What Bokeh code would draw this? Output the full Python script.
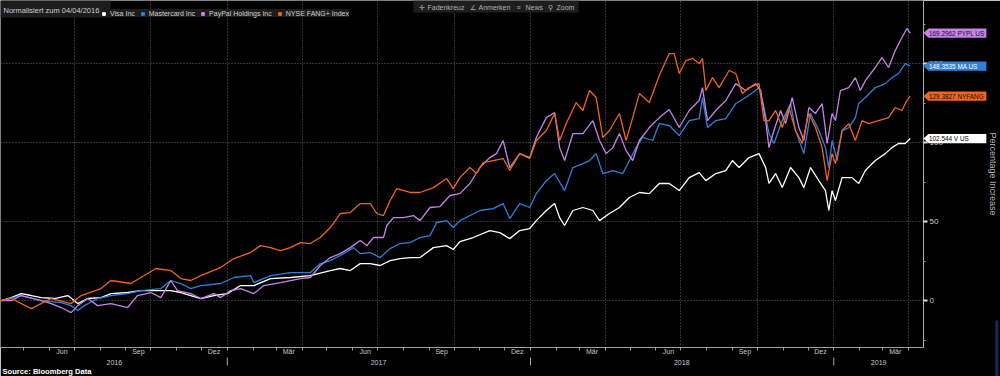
from datetime import date
from bokeh.plotting import figure
from bokeh.models import (Range1d, FixedTicker, Legend, LegendItem,
                          Label, BoxAnnotation)
from bokeh.core.properties import value
from bokeh.embed import file_html
from bokeh.resources import INLINE

START = date(2016, 4, 4)  # day 0 (normalisation date)

# ---- data: days since 04/04/2016 and % increase ----
visa_day = [0,12,24,36,48,64,80,92,104,120,132,152,168,192,204,216,228,240,256,272,
            288,304,324,348,372,396,408,420,432,444,456,468,480,492,504,520,536,544,552,568,
            588,600,612,624,636,644,656,666,672,678,688,700,712,720,732,744,756,768,780,792,
            804,816,828,840,848,860,872,880,888,900,912,920,924,932,940,950,960,966,974,984,
            992,996,1000,1004,1012,1024,1032,1040,1052,1064,1072,1080,1088,1094]
visa_val = [0,1.9,4.4,3.2,1.9,1.3,3.2,-1.9,1.3,1.9,4.4,5.1,6.3,6.3,6.3,5.1,3.2,1.3,3.2,4.4,
            9.5,9.5,13.9,14.6,15.8,19.0,20.3,19.0,23.4,23.4,22.2,25.3,26.6,27.2,27.2,33.5,34.8,32.3,37.3,39.9,
            44.3,43.0,39.2,44.3,45.6,50.6,57.0,61.4,52.5,47.5,57.0,58.9,57.0,50.6,55.1,58.9,65.2,68.4,67.7,74.1,
            74.1,69.6,77.8,81.0,75.9,80.4,82.3,88.6,84.2,90.5,93.0,84.2,74.1,80.4,71.5,84.2,77.8,71.5,84.2,75.9,
            69.6,57.0,69.6,63.3,77.8,77.8,74.1,82.3,88.6,93.0,96.8,99.4,99.4,102.544]

ma_day = [0,24,48,72,84,92,100,116,132,152,168,192,204,216,228,240,264,280,300,304,
          324,348,372,384,396,408,424,432,444,456,468,480,492,504,516,524,536,544,552,576,
          592,604,612,624,636,644,656,666,678,688,700,708,716,724,736,748,756,764,772,784,
          792,804,816,828,840,844,850,860,872,884,896,908,912,918,924,930,940,950,956,966,
          974,984,992,996,1000,1006,1012,1020,1028,1032,1040,1052,1064,1072,1080,1088,1094]
ma_val = [0,3.2,0,-1.3,-3.2,-6.3,-3.2,1.3,3.2,4.4,6.3,7.6,12.7,10.8,7.6,9.5,10.8,14.6,15.8,11.4,
          15.8,17.7,17.7,23.4,25.3,28.5,33.5,29.7,30.4,27.2,32.9,36.1,36.7,39.9,41.1,49.4,50.6,46.2,50.6,57.0,
          58.2,61.4,51.9,61.4,58.9,67.7,75.9,80.4,69.6,84.2,86.7,88.6,93.0,80.4,82.3,80.4,88.6,96.8,103.2,101.3,
          112.0,110.8,104.4,113.9,115.2,128.5,109.5,113.9,115.2,124.7,128.5,132.9,134.8,122.2,105.7,99.4,113.9,124.7,107.6,93.0,
          118.4,107.6,96.8,84.2,101.3,88.6,107.6,109.5,115.8,124.7,128.5,134.8,137.3,141.1,143.7,150.0,148.3535]

pypl_day = [0,12,24,48,60,72,84,92,104,116,132,152,164,180,192,204,212,228,240,256,
            264,276,288,304,316,336,360,372,384,396,408,420,432,440,448,460,464,472,484,496,
            504,516,528,540,552,564,576,588,596,604,612,624,636,644,656,666,672,678,688,700,
            712,720,728,736,744,752,760,768,780,792,804,816,828,840,844,850,860,872,884,896,
            908,914,920,924,930,938,944,952,960,966,972,980,988,994,1000,1004,1010,1020,1028,1034,
            1040,1052,1060,1068,1076,1084,1090,1094]
pypl_val = [0,0,3.2,0,-1.9,-4.4,-7.6,-3.2,1.3,-3.2,-1.9,-4.4,3.2,5.1,1.9,12.7,6.3,4.4,1.3,4.4,
            1.9,6.3,7.6,4.4,9.5,11.4,13.9,14.6,22.2,27.2,29.7,33.5,38.0,34.8,39.9,39.9,47.5,52.5,52.5,53.8,
            50.6,58.9,59.5,66.5,67.7,74.1,84.2,90.5,93.0,101.3,84.2,93.0,90.5,103.2,115.8,119.0,96.8,88.6,105.7,105.7,
            113.9,101.3,93.0,96.8,105.7,94.9,88.6,101.3,109.5,115.8,120.9,109.5,120.3,126.6,134.8,113.9,120.3,126.6,137.3,132.9,
            137.3,132.9,113.9,96.8,107.6,120.3,112.0,128.5,109.5,101.3,122.2,118.4,124.7,99.4,118.4,113.9,132.9,134.8,141.1,132.9,
            139.2,147.5,153.8,147.5,158.2,166.5,172.2,169.2962]

fang_day = [0,12,36,60,84,96,120,132,156,168,186,204,216,228,240,264,280,300,312,324,
            336,348,360,372,384,396,408,420,432,444,452,460,468,476,492,504,520,536,544,552,
            564,572,580,592,604,612,624,636,644,656,666,672,680,692,700,708,716,724,732,744,
            752,760,768,780,792,804,810,816,824,832,840,844,848,856,864,876,884,892,900,912,
            918,924,932,940,948,956,964,972,980,988,994,1000,1004,1012,1020,1028,1036,1044,1056,1068,
            1076,1084,1090,1094]
fang_val = [0,1.3,-5.1,1.3,-1.9,3.2,7.6,12.7,10.8,14.6,20.3,19.0,13.9,12.7,15.8,20.9,26.6,30.4,34.8,33.5,
            31.6,33.5,36.7,36.1,39.9,46.2,55.1,55.7,61.4,61.4,55.1,53.8,63.3,70.9,68.4,68.4,71.5,77.2,70.9,77.8,
            84.2,80.4,87.3,88.6,89.9,82.3,93.0,89.9,101.3,107.6,118.4,101.3,112.0,125.3,120.3,132.9,128.5,103.2,107.6,118.4,
            101.3,115.8,131.0,125.3,142.4,156.3,156.3,143.7,151.9,153.2,150.0,153.2,132.9,141.1,134.8,145.6,143.7,131.0,134.8,137.3,
            113.9,113.9,120.3,109.5,122.2,107.6,99.4,118.4,109.5,96.8,75.9,93.0,86.7,107.6,112.0,101.3,113.9,112.0,113.9,115.8,
            122.2,120.3,126.6,129.3827]

series_names = ["Visa Inc", "Mastercard Inc", "PayPal Holdings Inc", "NYSE FANG+ Index"]
series_tag_text = ["102.544  V US", "148.3535 MA US", "169.2962 PYPL US", "129.3827 NYFANG"]
series_colors = ["#ffffff", "#2f80d8", "#c583e8", "#ee6420"]
tag_text_colors = ["#000000", "#ffffff", "#1a1030", "#1a0c00"]
series_days = [visa_day, ma_day, pypl_day, fang_day]
series_vals = [visa_val, ma_val, pypl_val, fang_val]

month_names = {3: "Mär", 6: "Jun", 9: "Sep", 12: "Dez"}
month_label_months = [(2016, 6), (2016, 9), (2016, 12), (2017, 3), (2017, 6), (2017, 9),
                      (2017, 12), (2018, 3), (2018, 6), (2018, 9), (2018, 12), (2019, 3)]
years = [2016, 2017, 2018, 2019]
y_ticks = [0, 50, 100, 150]
y_minor = [-25, 25, 75, 125, 175]


def d(y, m, dd=1):
    return (date(y, m, dd) - START).days


# frame geometry (pixels) and ranges
FRAME_W, FRAME_H = 925, 347
X0, X_END = -1, 1110
Y_BOT, Y_TOP = -29.7, 189.9


def px_to_day(px):
    return X0 + (X_END - X0) * px / FRAME_W


def py_to_val(py):
    return Y_TOP - (Y_TOP - Y_BOT) * py / FRAME_H


month_ticks = [d(y, m, 16) for (y, m) in month_label_months]
month_overrides = {d(y, m, 16): month_names[m] for (y, m) in month_label_months}
month_starts = []
for y in range(2016, 2020):
    for m in range(1, 13):
        t = d(y, m)
        if 0 < t < X_END:
            month_starts.append(t)
quarter_starts = [t for t in month_starts
                  if date.fromordinal(START.toordinal() + t).month in (1, 4, 7, 10)]
year_starts = [d(y, 1) for y in years[1:]]
year_mid = [(max(0, d(y, 1)) + min(X_END, d(y + 1, 1))) // 2 for y in years]

FONT = "Liberation Sans"

p = figure(width=1000, height=376, output_backend="svg", toolbar_location=None,
           x_range=Range1d(X0, X_END), y_range=Range1d(Y_BOT, Y_TOP),
           y_axis_location="right",
           min_border_left=0, min_border_top=0, min_border_right=75, min_border_bottom=29,
           background_fill_color="#000000", border_fill_color="#000000",
           outline_line_color=None)

# grids
p.xgrid.ticker = FixedTicker(ticks=quarter_starts)
p.ygrid.ticker = FixedTicker(ticks=y_ticks)
for g in (p.xgrid, p.ygrid):
    g.grid_line_color = "#8a8a8a"
    g.grid_line_dash = "1 2"
    g.grid_line_alpha = 0.7

# bottom month axis
xa = p.xaxis[0]
xa.ticker = FixedTicker(ticks=month_ticks, minor_ticks=month_starts)
xa.major_label_overrides = month_overrides
xa.major_tick_line_color = None
xa.major_tick_out = 0
xa.major_tick_in = 0
xa.minor_tick_in = 0
xa.minor_tick_out = 3
xa.minor_tick_line_color = "#999999"
xa.axis_line_color = "#a0a0a0"
xa.major_label_text_font = FONT
xa.major_label_text_font_size = "7px"
xa.major_label_text_color = "#c8c8c8"
xa.major_label_standoff = -3

# year labels + year separators under the month labels
p.text(x=year_mid, y=[py_to_val(361.5)] * len(year_mid), text=[str(y) for y in years],
       text_color="#c8c8c8", text_font=value(FONT), text_font_size=value("7px"),
       text_align="center", text_baseline="middle", level="overlay")
p.segment(x0=year_starts, x1=year_starts, y0=[py_to_val(357)] * len(year_starts),
          y1=[py_to_val(365)] * len(year_starts), line_color="#aaaaaa", line_width=1,
          level="overlay")

# right value axis
ya = p.yaxis[0]
ya.ticker = FixedTicker(ticks=y_ticks, minor_ticks=y_minor)
ya.major_tick_in = 0
ya.major_tick_out = 4
ya.major_tick_line_width = 2
ya.major_tick_line_color = "#dddddd"
ya.minor_tick_in = 0
ya.minor_tick_out = 2
ya.minor_tick_line_color = "#999999"
ya.axis_line_color = "#b0b0b0"
ya.major_label_text_font = FONT
ya.major_label_text_font_size = "8px"
ya.major_label_text_color = "#c8c8c8"
ya.major_label_standoff = 2
ya.axis_label = "Percentage Increase"
ya.axis_label_text_font = FONT
ya.axis_label_text_font_style = "normal"
ya.axis_label_text_font_size = "9px"
ya.axis_label_text_color = "#b8b8b8"
ya.axis_label_standoff = 42

# lines
for days, vals, col in zip(series_days, series_vals, series_colors):
    p.line(x=days, y=vals, line_color=col, line_width=1.3)

# legend bar
p.add_layout(BoxAnnotation(left=0, right=110, bottom=330, top=347,
                           left_units="screen", right_units="screen",
                           bottom_units="screen", top_units="screen",
                           fill_color="#1c1c1c", fill_alpha=1, line_color=None))
p.add_layout(Label(x=3, y=337.5, x_units="screen", y_units="screen",
                   text="Normalisiert zum 04/04/2016", text_font=FONT,
                   text_font_size="7.5px", text_color="#d0d0d0", text_baseline="middle"))
items = []
for name, col in zip(series_names, series_colors):
    r = p.scatter(x=[-500], y=[-500], marker="square", size=7, fill_color=col, line_color=col)
    items.append(LegendItem(label=name, renderers=[r]))
legend = Legend(items=items, orientation="horizontal", location=(100, 330),
                background_fill_color="#1c1c1c", background_fill_alpha=1,
                border_line_color=None, label_text_font=FONT, label_text_font_size="7px",
                label_text_color="#d0d0d0", glyph_width=7, glyph_height=7,
                label_standoff=3, spacing=4, padding=4, margin=0, label_height=8)
p.add_layout(legend)

# toolbar strip
p.add_layout(BoxAnnotation(left=413, right=578, bottom=335, top=347,
                           left_units="screen", right_units="screen",
                           bottom_units="screen", top_units="screen",
                           fill_color="#1e1e1e", fill_alpha=1, line_color=None))
for tx, txt in [(418, "✛"), (427, "Fadenkreuz"), (469, "∠"), (478, "Anmerken"),
                (516, "≡"), (525, "News"), (547, "⚲"), (556, "Zoom")]:
    p.add_layout(Label(x=tx, y=340.5, x_units="screen", y_units="screen", text=txt,
                       text_font=FONT, text_font_size="7px", text_color="#b0b0b0",
                       text_baseline="middle"))

# last-value tags (drawn at overlay level so they sit over the right axis)
h = 4.6 * (Y_TOP - Y_BOT) / FRAME_H
tag_xs, tag_ys, tag_tx, tag_ty = [], [], [], []
for vals in series_vals:
    v = vals[-1]
    tag_xs.append([px_to_day(925), px_to_day(930), px_to_day(988), px_to_day(988), px_to_day(930)])
    tag_ys.append([v, v + h, v + h, v - h, v - h])
    tag_tx.append(px_to_day(930.5))
    tag_ty.append(v)
p.patches(xs=tag_xs, ys=tag_ys, fill_color=series_colors, line_color=None, level="overlay")
p.text(x=tag_tx, y=tag_ty, text=series_tag_text, text_color=tag_text_colors,
       text_font=value(FONT), text_font_size=value("6.4px"),
       text_baseline="middle", level="overlay")

# source
p.text(x=[px_to_day(2)], y=[py_to_val(370.5)], text=["Source: Bloomberg Data"],
       text_color="#ffffff", text_font=value(FONT), text_font_style="bold",
       text_font_size=value("7.6px"), text_baseline="middle", level="overlay")

# edge strip
p.quad(left=[px_to_day(997)], right=[px_to_day(1000)], bottom=[py_to_val(376)],
       top=[py_to_val(320)], fill_color="#16285e", line_color=None, level="overlay")

open("out.html", "w").write(file_html(p, INLINE))
